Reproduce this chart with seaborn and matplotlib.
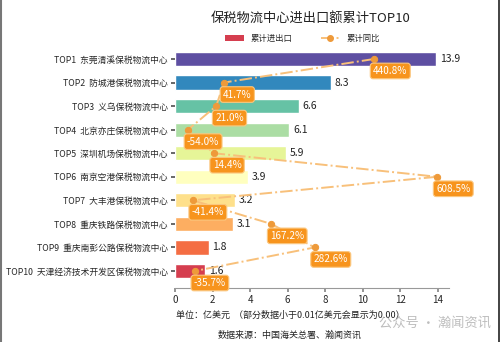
import matplotlib
matplotlib.use("Agg")
import matplotlib.pyplot as plt
import seaborn as sns
import numpy as np
import pandas as pd
from matplotlib.lines import Line2D
from matplotlib.patches import Patch

categories = ["TOP1  东莞清溪保税物流中心", "TOP2  防城港保税物流中心", "TOP3  义乌保税物流中心",
              "TOP4  北京亦庄保税物流中心", "TOP5  深圳机场保税物流中心", "TOP6  南京空港保税物流中心",
              "TOP7  大丰港保税物流中心", "TOP8  重庆铁路保税物流中心", "TOP9  重庆南彭公路保税物流中心",
              "TOP10  天津经济技术开发区保税物流中心"]
values = [13.9, 8.3, 6.6, 6.1, 5.9, 3.9, 3.2, 3.1, 1.8, 1.6]
yoy = [440.8, 41.7, 21.0, -54.0, 14.4, 608.5, -41.4, 167.2, 282.6, -35.7]
xticks = [0, 2, 4, 6, 8, 10, 12, 14]
colors = ["#5e4fa2", "#3288bd", "#66c2a5", "#abdda4", "#e6f598",
          "#ffffbf", "#fee08b", "#fdae61", "#f46d43", "#d53e4f"]

sns.set_theme(style="white")
plt.rcParams['font.family'] = ['Noto Sans CJK SC', 'DejaVu Sans']
plt.rcParams['axes.unicode_minus'] = False

df = pd.DataFrame({"cat": categories, "val": values, "yoy": yoy, "pos": np.arange(len(categories))})

fig = plt.figure(figsize=(5, 3.42), dpi=100)
ax = fig.add_axes([0.35, 0.158, 0.548, 0.704])
sns.barplot(data=df, y="cat", x="val", hue="cat", palette=colors, legend=False,
            width=0.6, ax=ax, orient="h", saturation=1)
ax.set_xlim(0, 14.6)
ax.set_ylim(9.72, -0.5)
ax.set_xticks(xticks)
ax.set_xlabel("")
ax.set_ylabel("")
ax.tick_params(axis="y", labelsize=6.3, length=3, color="#555555", left=True, pad=2)
ax.tick_params(axis="x", labelsize=7, length=3, color="#888888", bottom=True, pad=2)
for s in ["top", "right", "left"]:
    ax.spines[s].set_visible(False)
ax.spines["bottom"].set_color("#999999")
ax.spines["bottom"].set_linewidth(0.8)
for i, v in enumerate(values):
    ax.text(v + 0.2, i, f"{v:.1f}", va="center", ha="left", fontsize=7.5, color="#222222")

ax2 = ax.twiny()
sns.lineplot(data=df, x="yoy", y="pos", sort=False, orient="y", ax=ax2,
             color="#f8c07a", linewidth=1.4, linestyle="-.", marker="o",
             markersize=4.5, markerfacecolor="#ee9a3a", markeredgecolor="#ee9a3a")
ax2.set_xlim(-88.5, 640)
ax2.set_ylim(9.72, -0.5)
ax2.set_xticks([])
ax2.set_xlabel("")
ax2.set_ylabel("")
for s in ax2.spines.values():
    s.set_visible(False)
for i, p in enumerate(yoy):
    ax2.annotate(f"{p:.1f}%", xy=(p, i), xytext=(-1, -7), textcoords="offset pixels",
                 ha="left", va="top", fontsize=7.2, color="white",
                 bbox=dict(boxstyle="round,pad=0.28", fc="#f7941d", ec="#fbc77f", lw=0.8))

fig.text(0.622, 0.947, "保税物流中心进出口额累计TOP10", ha="center", va="center", fontsize=9.5, color="#222222")
handles = [Patch(facecolor="#d53e4f", edgecolor="none"),
           Line2D([0], [0], color="#f8c07a", lw=1.4, ls="-.", marker="o", markersize=4,
                  markerfacecolor="#ee9a3a", markeredgecolor="#ee9a3a")]
fig.legend(handles, ["累计进出口", "累计同比"], loc="center", bbox_to_anchor=(0.605, 0.888),
           ncol=2, frameon=False, fontsize=6, handlelength=2.2, columnspacing=3.5,
           handleheight=0.6)

fig.text(0.58, 0.077, "单位：亿美元  （部分数据小于0.01亿美元会显示为0.00）", ha="center", va="center",
         fontsize=6.5, color="#222222")
fig.text(0.58, 0.02, "数据来源：中国海关总署、瀚闻资讯", ha="center", va="center",
         fontsize=6.5, color="#222222")
fig.text(0.87, 0.055, "公众号 · 瀚闻资讯", ha="center", va="center", fontsize=9.5,
         color="#888888", alpha=0.55)

fig.add_artist(Line2D([0.002, 0.002], [0, 1], color="#777777", lw=1.5, transform=fig.transFigure))
fig.add_artist(Line2D([0.997, 0.997], [0, 1], color="#222222", lw=1.2, transform=fig.transFigure))

fig.savefig("out.png", dpi=100, facecolor="white")
